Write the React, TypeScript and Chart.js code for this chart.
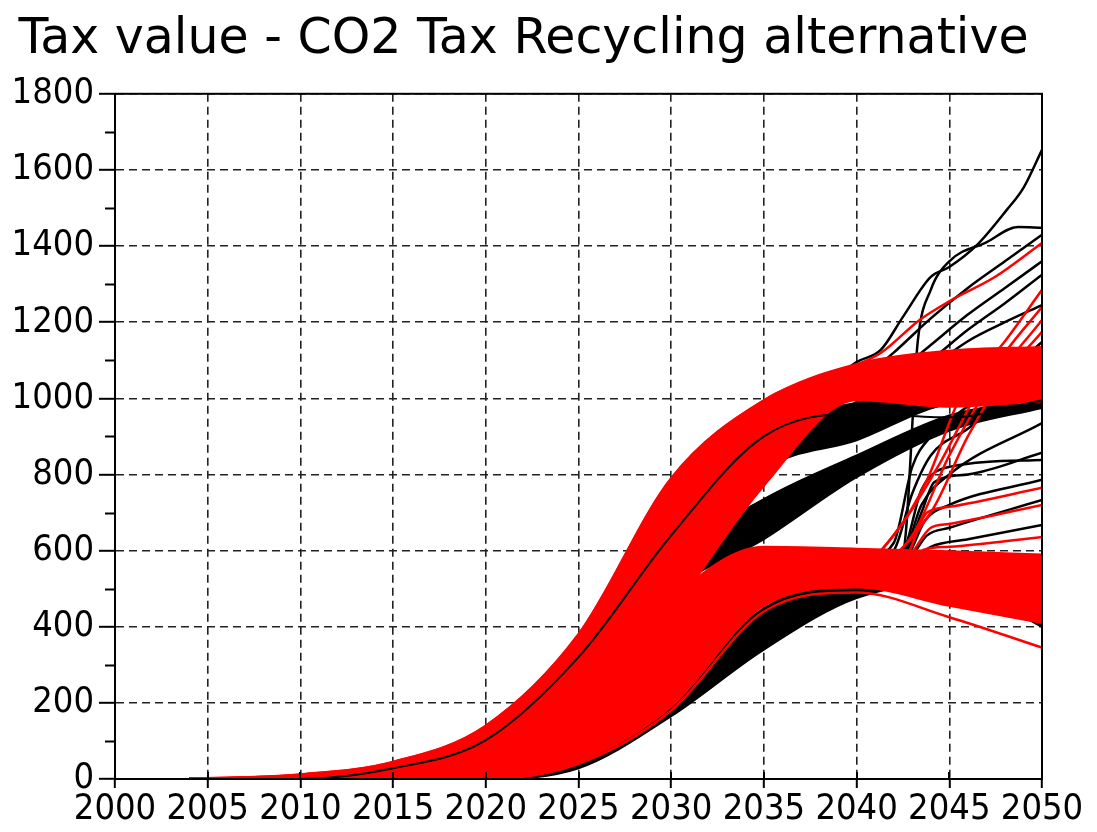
import React, { useEffect, useRef } from "react";
import { Chart, registerables } from "chart.js";

Chart.register(...registerables);

const TITLE = "Tax value - CO2 Tax Recycling alternative";

const X_TICKS = [2000, 2005, 2010, 2015, 2020, 2025, 2030, 2035, 2040, 2045, 2050];
const Y_TICKS = [0, 200, 400, 600, 800, 1000, 1200, 1400, 1600, 1800];
const Y_MINOR = [100, 300, 500, 700, 900, 1100, 1300, 1500, 1700];

// Common sampling years for the bundled scenario runs
const YEARS = [2004, 2010, 2015, 2020, 2025, 2030, 2035, 2040, 2045, 2050];

// Red runs: early start, converging to ~1000-1130 by 2050
const RED_UPPER = [
  [0, 12, 45, 140, 380, 790, 995, 1090, 1125, 1135],
  [0, 11, 42, 132, 366, 772, 985, 1083, 1118, 1130],
  [0, 10, 39, 124, 352, 753, 975, 1077, 1112, 1124],
  [0, 9, 36, 116, 338, 734, 962, 1070, 1105, 1118],
  [0, 8, 33, 108, 323, 713, 950, 1064, 1098, 1111],
  [0, 7, 30, 100, 308, 692, 937, 1057, 1090, 1104],
  [0, 6, 27, 92, 292, 670, 922, 1050, 1082, 1096],
  [0, 5, 24, 85, 276, 648, 908, 1044, 1074, 1088],
  [0, 4, 21, 77, 260, 624, 892, 1037, 1065, 1079],
  [0, 3, 18, 69, 243, 600, 876, 1030, 1056, 1070],
  [0, 2, 15, 61, 225, 575, 858, 1023, 1046, 1060],
  [0, 2, 12, 53, 207, 549, 840, 1016, 1036, 1049],
  [0, 1, 9, 45, 188, 522, 821, 1009, 1024, 1037],
  [0, 1, 7, 38, 169, 494, 802, 1003, 1011, 1024],
  [0, 0, 5, 31, 150, 465, 785, 998, 995, 1008],
  [0, 0, 3, 25, 130, 436, 770, 995, 978, 992],
];

// Red runs levelling off around 400-600
const RED_PLATEAU = [
  [0, 0, 3, 30, 175, 470, 610, 605, 598, 590],
  [0, 0, 2, 27, 165, 450, 600, 598, 590, 578],
  [0, 0, 2, 24, 155, 430, 590, 592, 582, 566],
  [0, 0, 1, 21, 145, 408, 580, 585, 574, 553],
  [0, 0, 1, 18, 135, 387, 570, 578, 565, 540],
  [0, 0, 0, 15, 125, 366, 559, 571, 556, 527],
  [0, 0, 0, 12, 115, 345, 548, 564, 546, 513],
  [0, 0, 0, 10, 105, 323, 536, 557, 535, 499],
  [0, 0, 0, 8, 95, 301, 524, 549, 524, 485],
  [0, 0, 0, 6, 85, 279, 511, 541, 512, 470],
  [0, 0, 0, 4, 75, 257, 498, 533, 499, 455],
  [0, 0, 0, 2, 65, 234, 484, 524, 485, 439],
  [0, 0, 0, 1, 55, 212, 470, 514, 470, 422],
  [0, 0, 0, 0, 45, 190, 455, 503, 455, 410],
];
const RED_LOWEST = [0, 0, 0, 0, 40, 180, 440, 490, 425, 345];

// Black runs: late start, lowest envelope
const BLACK_LOWER = [
  [0, 0, 0, 0, 28, 165, 340, 475, 515, 400],
  [0, 0, 0, 0, 32, 175, 355, 485, 520, 430],
  [0, 0, 0, 0, 36, 185, 370, 495, 525, 460],
  [0, 0, 0, 0, 40, 196, 385, 505, 532, 489],
  [0, 0, 0, 0, 45, 207, 400, 515, 540, 510],
  [0, 0, 0, 0, 50, 218, 415, 525, 548, 530],
  [0, 0, 0, 0, 55, 229, 430, 535, 556, 545],
  [0, 0, 0, 0, 60, 240, 448, 545, 565, 560],
];

// Black runs: thick diagonal band reaching ~1000 in 2050
const BLACK_MID = [
  [0, 0, 2, 42, 240, 575, 735, 850, 955, 1000],
  [0, 0, 1, 37, 226, 558, 715, 838, 946, 995],
  [0, 0, 1, 32, 212, 540, 695, 826, 938, 990],
  [0, 0, 0, 27, 198, 522, 675, 815, 930, 985],
  [0, 0, 0, 22, 184, 505, 655, 804, 922, 980],
  [0, 0, 0, 18, 170, 488, 630, 793, 915, 975],
];

// Black runs: early start, just under the red upper bundle
const BLACK_UPPER = [
  [0, 0, 25, 115, 320, 660, 917, 988, 1005, 1012],
  [0, 0, 20, 105, 300, 630, 890, 965, 1000, 1008],
  [0, 0, 14, 95, 280, 600, 865, 940, 995, 1004],
  [0, 0, 10, 85, 262, 575, 838, 915, 990, 1000],
  [0, 0, 6, 75, 245, 550, 812, 890, 985, 997],
];

// One early black run that stays visible inside the red bundle
const BLACK_STREAK = [0, 0, 28, 102, 320, 640, 900, 960, 950, 995];

// Individual runs, [year, value]
const RED_TOP = [
  [2004, 0], [2010, 12], [2015, 45], [2020, 140], [2025, 380], [2030, 790], [2035, 995],
  [2040, 1088], [2041.3, 1119], [2043.4, 1206], [2045, 1255], [2047.5, 1320], [2050, 1408],
];

const RED_BREAKOUT = [
  [[2004, 0], [2015, 2], [2020, 22], [2025, 150], [2030, 420], [2035, 585], [2040, 560], [2042, 640], [2043.8, 786], [2045.6, 1004], [2048, 1150], [2050, 1285]],
  [[2004, 0], [2015, 2], [2020, 20], [2025, 145], [2030, 410], [2035, 578], [2040, 555], [2042.3, 660], [2044.5, 830], [2046.3, 996], [2048, 1120], [2050, 1240]],
  [[2004, 0], [2015, 1], [2020, 18], [2025, 140], [2030, 400], [2035, 572], [2041, 565], [2043, 640], [2045, 850], [2047, 1020], [2050, 1206]],
  [[2004, 0], [2015, 1], [2020, 16], [2025, 135], [2030, 392], [2035, 568], [2041, 570], [2044, 700], [2046, 900], [2048, 1060], [2050, 1175]],
  [[2004, 0], [2015, 1], [2020, 14], [2025, 128], [2030, 380], [2035, 562], [2040, 560], [2042.5, 575], [2043.8, 700], [2045, 715], [2050, 765]],
  [[2004, 0], [2015, 0], [2020, 12], [2025, 122], [2030, 370], [2035, 556], [2040, 555], [2042.7, 580], [2044, 660], [2045, 670], [2050, 720]],
  [[2004, 0], [2015, 0], [2020, 10], [2025, 115], [2030, 360], [2035, 550], [2040, 550], [2043, 570], [2043.6, 602], [2045, 610], [2050, 636]],
];

const BLACK_BREAKOUT = [
  [[2004, 0], [2015, 0], [2020, 8], [2025, 100], [2030, 335], [2035, 540], [2040, 560], [2042.5, 580], [2043.5, 700], [2044.2, 780], [2046, 800], [2050, 857]],
  [[2004, 0], [2015, 0], [2020, 7], [2025, 95], [2030, 328], [2035, 536], [2040, 555], [2042.7, 585], [2043.7, 680], [2045, 720], [2050, 786]],
  [[2004, 0], [2015, 0], [2020, 6], [2025, 92], [2030, 320], [2035, 532], [2040, 550], [2043, 590], [2043.8, 640], [2045, 660], [2050, 733]],
  [[2004, 0], [2015, 0], [2020, 5], [2025, 88], [2030, 312], [2035, 528], [2041, 560], [2043, 575], [2044, 610], [2046, 630], [2050, 667]],
  [[2004, 0], [2015, 0], [2020, 9], [2025, 104], [2030, 342], [2035, 545], [2040, 560], [2042, 600], [2043, 750], [2044, 850], [2046, 920], [2050, 1083]],
  [[2004, 0], [2015, 0], [2020, 10], [2025, 108], [2030, 350], [2035, 552], [2040, 570], [2042, 620], [2043, 820], [2044, 900], [2046, 980], [2050, 1148]],
  [[2004, 0], [2015, 0], [2020, 8], [2025, 98], [2030, 332], [2035, 538], [2040, 560], [2042.5, 590], [2043.5, 720], [2045, 800], [2050, 935]],
  [[2004, 0], [2015, 0], [2020, 9], [2025, 102], [2030, 338], [2035, 542], [2040, 565], [2042.5, 600], [2043.5, 760], [2045, 820], [2050, 838]],
];

const BLACK_HIGH = [
  [[2004, 0], [2015, 12], [2020, 100], [2025, 300], [2030, 640], [2035, 905], [2040, 1095], [2041.3, 1127], [2042.5, 1214], [2044, 1319], [2045, 1345], [2046.5, 1403], [2048.1, 1495], [2049, 1553], [2050, 1653]],
  [[2004, 0], [2020, 5], [2025, 110], [2030, 350], [2035, 560], [2040, 575], [2042.5, 600], [2043.3, 1150], [2044, 1285], [2045, 1360], [2047, 1410], [2048.7, 1450], [2050, 1448]],
  [[2004, 0], [2015, 10], [2020, 90], [2025, 280], [2030, 610], [2035, 880], [2040, 1040], [2042, 1120], [2044, 1210], [2046, 1290], [2048, 1360], [2050, 1430]],
  [[2004, 0], [2015, 9], [2020, 80], [2025, 265], [2030, 590], [2035, 860], [2040, 990], [2042, 1060], [2044, 1140], [2046, 1220], [2048, 1290], [2050, 1360]],
  [[2004, 0], [2015, 8], [2020, 70], [2025, 250], [2030, 570], [2035, 840], [2040, 975], [2042, 1030], [2044, 1100], [2046, 1180], [2048, 1250], [2050, 1325]],
  [[2004, 0], [2015, 7], [2020, 60], [2025, 235], [2030, 550], [2035, 820], [2040, 960], [2042, 1000], [2044, 1080], [2046, 1150], [2048, 1200], [2050, 1245]],
];

const RED = "#ff0000";
const BLACK = "#000000";
const TICK_FONT = { family: "'DejaVu Sans Condensed', 'DejaVu Sans', sans-serif", size: 36 };

const framePlugin = {
  id: "frame",
  afterDraw(chart: any) {
    const { ctx, chartArea: a, scales } = chart;
    ctx.save();
    ctx.setLineDash([]);
    ctx.strokeStyle = "#000";
    ctx.lineWidth = 2;
    ctx.strokeRect(a.left, a.top, a.right - a.left, a.bottom - a.top);
    ctx.beginPath();
    Y_MINOR.forEach((v) => {
      const py = Math.round(scales.y.getPixelForValue(v)) + 0.5;
      ctx.moveTo(a.left - 10, py);
      ctx.lineTo(a.left, py);
    });
    X_TICKS.forEach((v) => {
      const px = Math.round(scales.x.getPixelForValue(v));
      ctx.moveTo(px, a.bottom);
      ctx.lineTo(px, a.bottom - 7);
    });
    ctx.stroke();
    ctx.restore();
  },
};

type Layer = { pts: { x: number; y: number }[]; color: string; fill: string | false; width: number };

export default function App() {
  const ref = useRef<HTMLCanvasElement | null>(null);

  useEffect(() => {
    if (!ref.current) return;
    const layers: Layer[] = [];
    const fromYears = (vals: number[]) => YEARS.map((x, i) => ({ x, y: vals[i] }));
    const fromPairs = (p: number[][]) => p.map(([x, y]) => ({ x, y }));
    const band = (rows: number[][], color: string) =>
      rows.forEach((v, i) => layers.push({ pts: fromYears(v), color, fill: i > 0 ? "-1" : false, width: 2 }));
    const single = (pts: { x: number; y: number }[], color: string, width = 2.5) =>
      layers.push({ pts, color, fill: false, width });

    // bottom -> top
    BLACK_HIGH.forEach((p) => single(fromPairs(p), BLACK));
    BLACK_BREAKOUT.forEach((p) => single(fromPairs(p), BLACK));
    band(BLACK_LOWER, BLACK);
    band(BLACK_UPPER, BLACK);
    band(BLACK_MID, BLACK);
    band(RED_PLATEAU, RED);
    single(fromYears(RED_LOWEST), RED);
    band(RED_UPPER, RED);
    RED_BREAKOUT.forEach((p) => single(fromPairs(p), RED));
    single(fromPairs(RED_TOP), RED);
    single(fromYears(BLACK_STREAK), BLACK, 2);

    const datasets = layers.map((l, i) => ({
      data: l.pts,
      borderColor: l.color,
      backgroundColor: l.color,
      borderWidth: l.width,
      pointRadius: 0,
      fill: l.fill,
      cubicInterpolationMode: "monotone" as const,
      order: -i,
    }));

    const chart = new Chart(ref.current, {
      type: "line",
      data: { datasets },
      plugins: [framePlugin],
      options: {
        responsive: false,
        animation: false,
        devicePixelRatio: 1,
        layout: { padding: { left: 5, right: 55, top: 0, bottom: 0 } },
        plugins: {
          legend: { display: false },
          tooltip: { enabled: false },
          title: {
            display: true,
            text: TITLE,
            color: "#000",
            font: { family: "'DejaVu Sans', sans-serif", size: 49, weight: "normal" as const, lineHeight: 1.2 },
            padding: { top: 11, bottom: 24 },
          },
        },
        scales: {
          x: {
            type: "linear",
            min: 2000,
            max: 2050,
            afterFit: (s: any) => {
              s.height = 53;
            },
            afterBuildTicks: (s: any) => {
              s.ticks = X_TICKS.map((value) => ({ value }));
            },
            ticks: {
              autoSkip: false,
              maxRotation: 0,
              color: "#000",
              font: TICK_FONT,
              padding: 0,
              callback: (v: any) => String(v),
            },
            grid: {
              color: "#222",
              lineWidth: 1.6,
              tickLength: 9,
              tickColor: "#000",
              tickWidth: 2,
              tickBorderDash: [],
            },
            border: { display: true, color: "#000", width: 2, dash: [8, 5] },
          },
          y: {
            type: "linear",
            min: 0,
            max: 1800,
            afterFit: (s: any) => {
              s.width = 110;
            },
            afterBuildTicks: (s: any) => {
              s.ticks = Y_TICKS.map((value) => ({ value }));
            },
            ticks: {
              color: "#000",
              font: TICK_FONT,
              padding: 5,
              callback: (v: any) => String(v),
            },
            grid: {
              color: "#222",
              lineWidth: 1.6,
              tickLength: 16,
              tickColor: "#000",
              tickWidth: 2,
              tickBorderDash: [],
            },
            border: { display: true, color: "#000", width: 2, dash: [8, 5] },
          },
        },
      },
    });
    return () => chart.destroy();
  }, []);

  return (
    <div style={{ position: "fixed", left: 0, top: 0, width: 1097, height: 832, background: "#fff" }}>
      <canvas ref={ref} width={1097} height={832} style={{ display: "block" }} />
    </div>
  );
}
